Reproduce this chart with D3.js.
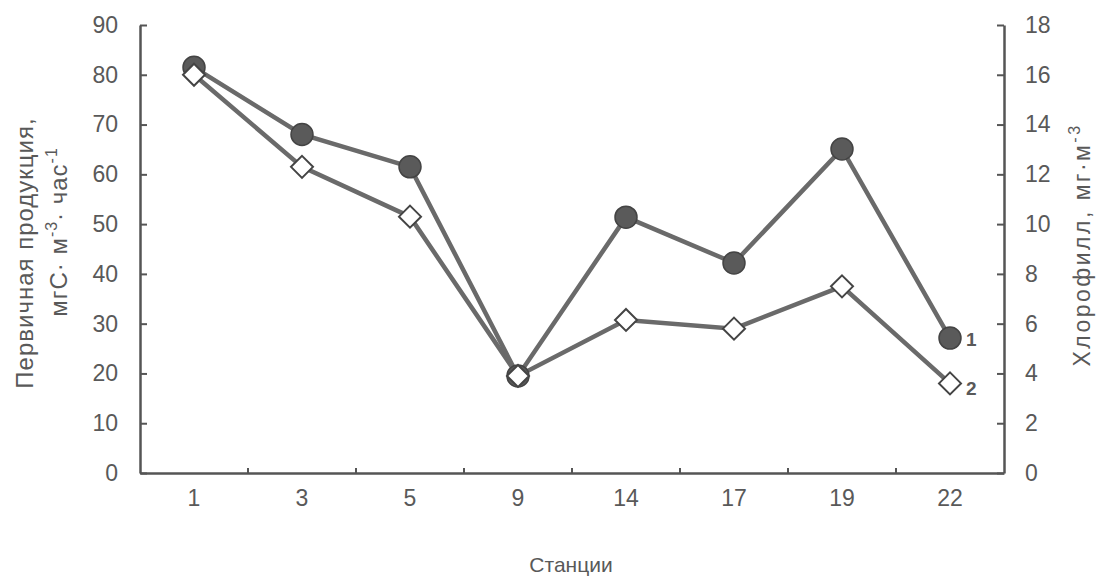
<!DOCTYPE html>
<html><head><meta charset="utf-8">
<script src="https://cdn.jsdelivr.net/npm/d3@7"></script>
<style>body{margin:0;background:#fff}svg{display:block}text{font-family:"Liberation Sans",Arial,sans-serif;fill:#595959}</style>
</head><body><svg id="c" width="1105" height="580"></svg>
<script>
const stations = ["1","3","5","9","14","17","19","22"];
const production = [81.5, 68, 61.5, 19.5, 51.4, 42.2, 65.1, 27.1];
const chlorophyll = [16.0, 12.3, 10.3, 3.9, 6.15, 5.8, 7.5, 3.6];
const leftTicks = [0,10,20,30,40,50,60,70,80,90];
const rightTicks = [0,2,4,6,8,10,12,14,16,18];

const svg = d3.select("#c");
const L = 140, R = 1004, T = 25, B = 473;
const x = d3.scaleBand().domain(stations).range([L, R]);
const yL = d3.scaleLinear().domain([0, 90]).range([B, T]);
const yR = d3.scaleLinear().domain([0, 18]).range([B, T]);
const axisColor = "#555";

// Axes
const gL = svg.append("g").attr("transform", `translate(${L},0)`)
  .call(d3.axisLeft(yL).tickValues(leftTicks).tickSizeInner(-7).tickSizeOuter(0).tickPadding(22));
const gR = svg.append("g").attr("transform", `translate(${R},0)`)
  .call(d3.axisRight(yR).tickValues(rightTicks).tickSizeInner(-7).tickSizeOuter(0).tickPadding(21));
const gB = svg.append("g").attr("transform", `translate(0,${B})`)
  .call(d3.axisBottom(x).tickSize(0).tickPadding(17));
// boundary ticks on x axis
const bounds = stations.slice(1).map(s => x(s));
gB.selectAll(".btick").data(bounds).enter().append("line")
  .attr("x1", d => d).attr("x2", d => d).attr("y1", 0).attr("y2", -5)
  .attr("stroke", axisColor).attr("stroke-width", 2);

[gL, gR, gB].forEach(g => {
  g.selectAll("path.domain").attr("stroke", axisColor).attr("stroke-width", 2.5);
  g.selectAll(".tick line").attr("stroke", axisColor).attr("stroke-width", 2);
  g.selectAll("text").attr("font-size", 23).attr("fill", "#595959")
    .style("font-family", "'Liberation Sans', Arial, sans-serif");
});

const cx = d => x(d) + x.bandwidth() / 2;

// Lines
const line1 = d3.line().x((d, i) => cx(stations[i])).y(d => yL(d));
const line2 = d3.line().x((d, i) => cx(stations[i])).y(d => yR(d));
svg.append("path").datum(chlorophyll).attr("d", line2)
  .attr("fill", "none").attr("stroke", "#6a6a6a").attr("stroke-width", 4.5);
svg.append("path").datum(production).attr("d", line1)
  .attr("fill", "none").attr("stroke", "#6a6a6a").attr("stroke-width", 4.5);

// Circles (series 1)
svg.selectAll(".c1").data(production).enter().append("circle")
  .attr("cx", (d, i) => cx(stations[i])).attr("cy", d => yL(d)).attr("r", 11)
  .attr("fill", "#5a5a5a").attr("stroke", "#444").attr("stroke-width", 1.5);

// Diamonds (series 2)
const ds = 11;
svg.selectAll(".d2").data(chlorophyll).enter().append("path")
  .attr("transform", (d, i) => `translate(${cx(stations[i])},${yR(d)})`)
  .attr("d", `M0,${-ds}L${ds},0L0,${ds}L${-ds},0Z`)
  .attr("fill", "#fff").attr("stroke", "#444").attr("stroke-width", 2);

// Series labels
const last = stations.length - 1;
svg.append("text").attr("x", cx(stations[last]) + 16).attr("y", yL(production[last]) + 8)
  .attr("font-size", 19).attr("font-weight", "bold").attr("fill", "#555").text("1");
svg.append("text").attr("x", cx(stations[last]) + 16).attr("y", yR(chlorophyll[last]) + 12)
  .attr("font-size", 19).attr("font-weight", "bold").attr("fill", "#555").text("2");

// Axis titles
svg.append("text").attr("transform", "translate(33,253) rotate(-90)")
  .attr("text-anchor", "middle").attr("font-size", 24).attr("letter-spacing", 1)
  .text("Первичная продукция,");
const t2 = svg.append("text").attr("transform", "translate(67,232) rotate(-90)")
  .attr("text-anchor", "middle").attr("font-size", 24).attr("letter-spacing", 1);
t2.append("tspan").text("мгС· м");
t2.append("tspan").attr("dy", -10).attr("font-size", 16).text("-3");
t2.append("tspan").attr("dy", 10).text("· час");
t2.append("tspan").attr("dy", -10).attr("font-size", 16).text("-1");

const t3 = svg.append("text").attr("transform", "translate(1090,245) rotate(-90)")
  .attr("text-anchor", "middle").attr("font-size", 23).attr("letter-spacing", 2.5);
t3.append("tspan").text("Хлорофилл, мг·м");
t3.append("tspan").attr("dy", -10).attr("font-size", 16).text("-3");

svg.append("text").attr("x", 571).attr("y", 572).attr("text-anchor", "middle")
  .attr("font-size", 21).text("Станции");
</script></body></html>
